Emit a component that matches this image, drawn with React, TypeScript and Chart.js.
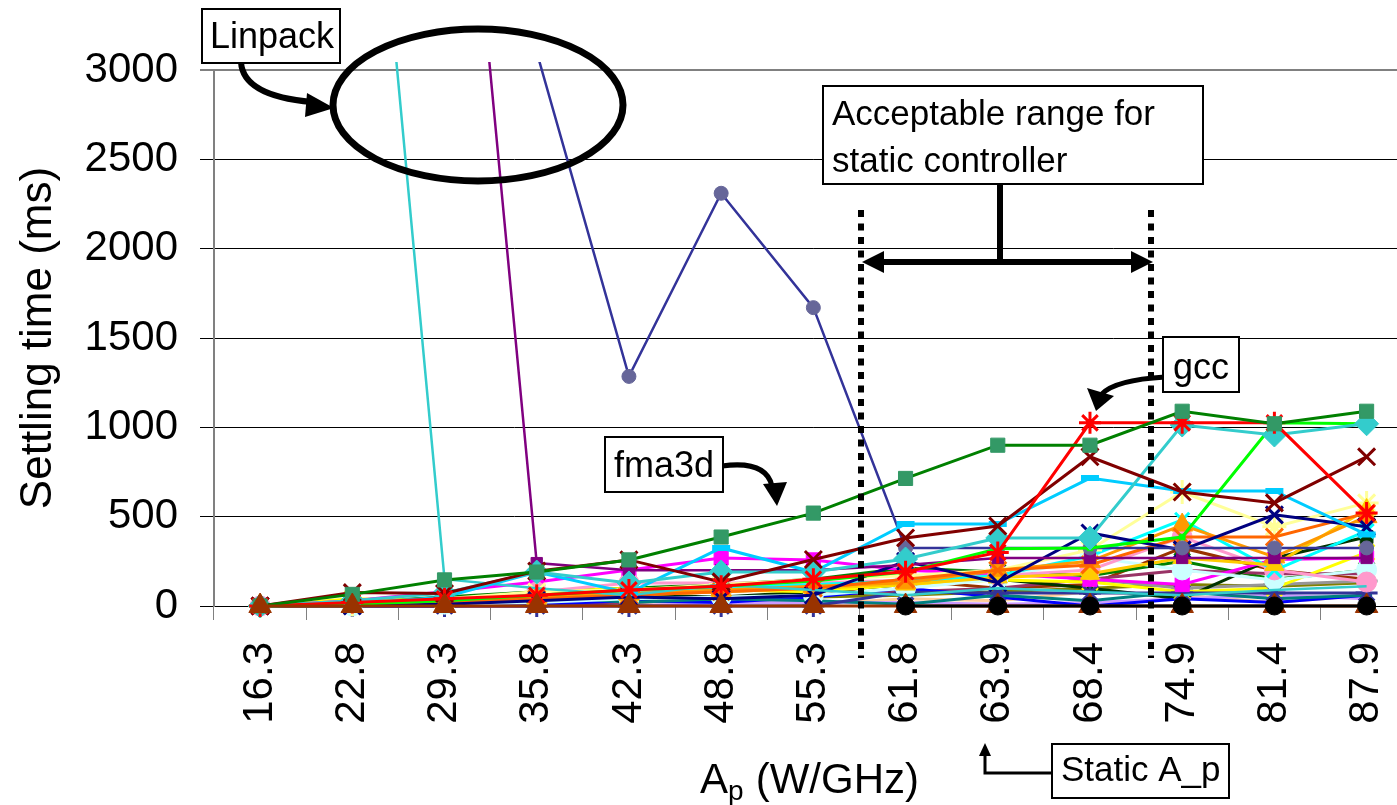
import React, { useEffect, useRef } from 'react';
import { Chart, registerables } from 'chart.js';

Chart.register(...registerables);

const FONT = "'Liberation Sans', Arial, Helvetica, sans-serif";

// Categories (A_p in W/GHz)
const categories = ['16.3', '22.8', '29.3', '35.8', '42.3', '48.8', '55.3', '61.8', '63.9', '68.4', '74.9', '81.4', '87.9'];

// Y axis
const yMin = 0;
const yMax = 3000;
const yStep = 500;

// Series values (ms); values above 3000 run off the top of the plot
const baseBlack = [null, null, null, null, null, null, null, 0, 0, 0, 0, 0, 0];
const baseBrown = [0, 0, 0, 0, 0, 0, 0, 0, 0, 0, 0, 0, 0];
const fma3d = [0, 65, 146, 190, 258, 386, 520, 714, 900, 900, 1090, 1020, 1090];
const gcc = [0, 20, 40, 60, 90, 110, 150, 192, 300, 1025, 1025, 1025, 520];
const darkRedX = [0, 75, 70, 195, 258, 135, 260, 381, 448, 835, 638, 577, 835];
const turquoiseDiamond = [0, 30, 73, 190, 129, 190, 190, 263, 381, 381, 1013, 957, 1020];
const limeSeries = [0, 10, 30, 60, 90, 110, 140, 190, 320, 325, 386, 1025, 1020];
const skyBlueDash = [0, 10, 50, 190, 73, 325, 190, 459, 459, 716, 644, 644, 400];
const linpackIndigo = [6000, 6000, 6000, 3100, 1285, 2310, 1670, 325, 325, 325, 325, 325, 325];
const linpackPurple = [6000, 6000, 5700, 240, 200, 200, 200, 230, 269, 269, 269, 269, 269];
const linpackCyan = [6000, 5700, 150, 100, 60, 120, 90, 60, 100, 80, 60, 90, 110];
const navyX = [0, 0, 10, 30, 50, 40, 60, 250, 130, 409, 314, 510, 443];
const orangeX = [0, 5, 20, 40, 60, 80, 100, 150, 200, 230, 386, 386, 520];
const orangeTri = [0, 0, 30, 50, 70, 90, 110, 130, 200, 250, 453, 275, 500];
const goldTri = [0, 0, 20, 40, 60, 80, 100, 120, 160, 180, 269, 230, 540];
const lightYellowStar = [0, 10, 40, 80, 90, 120, 150, 170, 200, 314, 638, 443, 577];
const cyanSeries = [0, 20, 40, 60, 80, 100, 120, 140, 170, 280, 482, 200, 420];
const pinkCircle = [0, 20, 30, 78, 129, 129, 129, 145, 170, 202, 386, 202, 134];
const lightCyanCircle = [0, 0, 10, 20, 40, 50, 60, 100, 150, 274, 202, 146, 202];
const magentaRect = [0, 30, 80, 134, 202, 269, 258, 200, 180, 150, 120, 260, 269];
const indigoStar = [0, 0, 0, 0, 0, 0, 0, 78, 73, 73, 73, 73, 73];
const yellowX = [0, 40, 30, 80, 100, 90, 80, 120, 146, 134, 80, 100, 300];
const tealSeries = [0, 0, 20, 60, 20, 40, 30, 10, 60, 30, 80, 40, 60];
const blueSeries = [0, 0, 0, 10, 30, 20, 50, 100, 50, 0, 40, 20, 60];
const darkGreenRect = [0, 0, 10, 30, 60, 50, 80, 120, 150, 100, 40, 269, 386];
const grayPlus = [0, 10, 20, 40, 60, 80, 100, 120, 190, 150, 100, 120, 140];
const oliveSeries = [0, 0, 10, 20, 30, 40, 50, 60, 80, 100, 120, 110, 130];
const plumSeries = [0, 0, 0, 0, 20, 40, 60, 80, 100, 150, 200, 180, 180];
const lavenderSeries = [0, 0, 0, 0, 0, 20, 20, 20, 10, 20, 40, 60, 40];
const tanSeries = [0, 0, 0, 10, 20, 30, 10, 40, 30, 80, 60, 20, 60];
const greenX = [0, 20, 50, 80, 100, 120, 150, 213, 190, 170, 250, 150, 200];
const brownRect = [0, 0, 10, 20, 30, 40, 50, 146, 100, 120, 325, 200, 150];

type S = { label: string; data: (number | null)[]; color: string; pc?: string; ps: any; r: number; w?: number };

// first entry is drawn on top
const seriesList: S[] = [
  { label: 'base2', data: baseBlack, color: '#000000', ps: 'circle', r: 9 },
  { label: 'base1', data: baseBrown, color: '#993300', ps: 'triangle', r: 13 },
  { label: 'fma3d', data: fma3d, color: '#008000', pc: '#339966', ps: 'rect', r: 10 },
  { label: 'gcc', data: gcc, color: '#FF0000', ps: 'star', r: 11 },
  { label: 's5', data: darkRedX, color: '#800000', ps: 'crossRot', r: 12 },
  { label: 's6', data: turquoiseDiamond, color: '#33CCCC', ps: 'rectRot', r: 12 },
  { label: 's7', data: limeSeries, color: '#00FF00', ps: 'rect', r: 4 },
  { label: 's8', data: skyBlueDash, color: '#00CCFF', ps: 'line', r: 9 },
  { label: 'Linpack1', data: linpackIndigo, color: '#333399', pc: '#666699', ps: 'circle', r: 7, w: 2.5 },
  { label: 'Linpack2', data: linpackPurple, color: '#800080', ps: 'rect', r: 8, w: 2.5 },
  { label: 'Linpack3', data: linpackCyan, color: '#33CCCC', ps: 'circle', r: 0, w: 2.5 },
  { label: 's12', data: navyX, color: '#000080', ps: 'crossRot', r: 12 },
  { label: 's13', data: orangeX, color: '#FF6600', ps: 'crossRot', r: 12 },
  { label: 's14', data: orangeTri, color: '#FF9900', ps: 'triangle', r: 12 },
  { label: 's15', data: goldTri, color: '#FFCC00', ps: 'triangle', r: 11 },
  { label: 's16', data: lightYellowStar, color: '#FFFF99', ps: 'star', r: 12 },
  { label: 's17', data: cyanSeries, color: '#00FFFF', ps: 'crossRot', r: 10 },
  { label: 's18', data: pinkCircle, color: '#FF99CC', ps: 'circle', r: 10 },
  { label: 's19', data: lightCyanCircle, color: '#CCFFFF', ps: 'circle', r: 10 },
  { label: 's20', data: magentaRect, color: '#FF00FF', ps: 'rect', r: 10 },
  { label: 's21', data: indigoStar, color: '#333399', ps: 'star', r: 11 },
  { label: 's22', data: yellowX, color: '#FFFF00', ps: 'crossRot', r: 11 },
  { label: 's23', data: tealSeries, color: '#008080', ps: 'circle', r: 5 },
  { label: 's24', data: blueSeries, color: '#0000FF', ps: 'circle', r: 5 },
  { label: 's25', data: darkGreenRect, color: '#003300', ps: 'rect', r: 9 },
  { label: 's26', data: grayPlus, color: '#969696', ps: 'cross', r: 11 },
  { label: 's27', data: oliveSeries, color: '#808000', ps: 'circle', r: 4 },
  { label: 's28', data: plumSeries, color: '#993366', ps: 'circle', r: 4 },
  { label: 's29', data: lavenderSeries, color: '#CC99FF', ps: 'circle', r: 4 },
  { label: 's30', data: tanSeries, color: '#FFCC99', ps: 'circle', r: 4 },
  { label: 's31', data: greenX, color: '#008000', ps: 'crossRot', r: 11 },
  { label: 's32', data: brownRect, color: '#993300', ps: 'rect', r: 10 },
];

function arrowHead(ctx: CanvasRenderingContext2D, tip: [number, number], b1: [number, number], b2: [number, number]) {
  ctx.beginPath();
  ctx.moveTo(tip[0], tip[1]);
  ctx.lineTo(b1[0], b1[1]);
  ctx.lineTo(b2[0], b2[1]);
  ctx.closePath();
  ctx.fill();
}

function box(ctx: CanvasRenderingContext2D, x1: number, y1: number, x2: number, y2: number) {
  ctx.fillStyle = '#ffffff';
  ctx.fillRect(x1, y1, x2 - x1, y2 - y1);
  ctx.strokeStyle = '#000000';
  ctx.lineWidth = 2;
  ctx.strokeRect(x1, y1, x2 - x1, y2 - y1);
  ctx.fillStyle = '#000000';
}

const annotations = {
  id: 'annotations',
  afterDraw(chart: any) {
    const ctx: CanvasRenderingContext2D = chart.ctx;
    ctx.save();
    ctx.fillStyle = '#000';
    ctx.strokeStyle = '#000';
    ctx.textBaseline = 'alphabetic';
    ctx.textAlign = 'left';

    // Linpack ellipse
    ctx.lineWidth = 7;
    ctx.beginPath();
    ctx.ellipse(478, 105, 145, 76, 0, 0, Math.PI * 2);
    ctx.stroke();

    // Linpack box + arrow
    ctx.lineWidth = 6;
    ctx.beginPath();
    ctx.moveTo(241, 62);
    ctx.quadraticCurveTo(243, 96, 312, 102);
    ctx.stroke();
    arrowHead(ctx, [334, 108], [307, 93], [305, 117]);
    box(ctx, 202, 9, 340, 63);
    ctx.font = `36px ${FONT}`;
    ctx.fillText('Linpack', 210, 48);

    // Dotted vertical lines
    ctx.lineWidth = 6;
    ctx.setLineDash([7, 6.5]);
    ctx.beginPath();
    ctx.moveTo(861, 210);
    ctx.lineTo(861, 658);
    ctx.moveTo(1151, 210);
    ctx.lineTo(1151, 658);
    ctx.stroke();
    ctx.setLineDash([]);

    // Acceptable range: stem + double arrow
    ctx.lineWidth = 6;
    ctx.beginPath();
    ctx.moveTo(1000, 184);
    ctx.lineTo(1000, 262);
    ctx.moveTo(880, 262);
    ctx.lineTo(1135, 262);
    ctx.stroke();
    arrowHead(ctx, [862, 262], [884, 251], [884, 273]);
    arrowHead(ctx, [1153, 262], [1131, 251], [1131, 273]);
    box(ctx, 823, 86, 1203, 184);
    ctx.font = `35px ${FONT}`;
    ctx.fillText('Acceptable range for', 832, 125);
    ctx.fillText('static controller', 832, 172);

    // gcc
    ctx.lineWidth = 5;
    ctx.beginPath();
    ctx.moveTo(1165, 377);
    ctx.quadraticCurveTo(1115, 380, 1102, 394);
    ctx.stroke();
    arrowHead(ctx, [1096, 411], [1087, 388], [1114, 396]);
    box(ctx, 1163, 337, 1239, 392);
    ctx.font = `36px ${FONT}`;
    ctx.fillText('gcc', 1173, 379);

    // fma3d
    ctx.lineWidth = 5;
    ctx.beginPath();
    ctx.moveTo(722, 466);
    ctx.quadraticCurveTo(766, 460, 772, 486);
    ctx.stroke();
    arrowHead(ctx, [777, 506], [763, 484], [787, 482]);
    box(ctx, 605, 437, 723, 492);
    ctx.font = `36px ${FONT}`;
    ctx.fillText('fma3d', 614, 477);

    // Static A_p
    ctx.lineWidth = 3;
    ctx.beginPath();
    ctx.moveTo(1052, 773);
    ctx.lineTo(985, 773);
    ctx.lineTo(985, 752);
    ctx.stroke();
    arrowHead(ctx, [985, 743], [979, 756], [991, 756]);
    box(ctx, 1052, 744, 1229, 798);
    ctx.font = `35px ${FONT}`;
    ctx.fillText('Static A_p', 1061, 781);

    // X axis title with subscript
    ctx.fillStyle = '#000';
    ctx.font = `42px ${FONT}`;
    ctx.fillText('A', 700, 793);
    ctx.font = `28px ${FONT}`;
    ctx.fillText('p', 728, 800);
    ctx.font = `42px ${FONT}`;
    ctx.fillText(' (W/GHz)', 744, 793);

    ctx.restore();
  },
};

export default function App() {
  const ref = useRef<HTMLCanvasElement | null>(null);

  useEffect(() => {
    if (!ref.current) return;
    const datasets = seriesList.map((s) => ({
      label: s.label,
      data: s.data,
      borderColor: s.color,
      backgroundColor: s.pc || s.color,
      pointBackgroundColor: s.pc || s.color,
      pointBorderColor: s.pc || s.color,
      pointStyle: s.ps,
      pointRadius: s.r,
      pointBorderWidth: s.ps === 'line' ? 6 : s.ps === 'crossRot' || s.ps === 'star' || s.ps === 'cross' ? 3 : 1,
      borderWidth: s.w || 3,
      fill: false,
      tension: 0,
      spanGaps: false,
      clip: { left: 10, top: 8, right: 10, bottom: 20 },
    }));

    const chart = new Chart(ref.current, {
      type: 'line',
      data: { labels: categories, datasets },
      options: {
        responsive: false,
        animation: false,
        devicePixelRatio: 1,
        layout: { padding: { top: 70, right: 26, left: 0, bottom: 0 } },
        plugins: { legend: { display: false }, tooltip: { enabled: false }, title: { display: false } },
        scales: {
          x: {
            type: 'category',
            offset: true,
            grid: { display: true, drawOnChartArea: false, drawTicks: true, tickLength: 14, color: '#808080', offset: true },
            border: { display: true, color: '#000000', width: 1 },
            ticks: { autoSkip: false, minRotation: 90, maxRotation: 90, padding: 22, color: '#000', font: { size: 42, family: FONT } },
            afterFit: (s: any) => { s.height = 199; },
          },
          y: {
            min: yMin,
            max: yMax,
            ticks: {
              stepSize: yStep,
              padding: 22,
              color: '#000',
              font: { size: 42, family: FONT },
              callback: (v: any) => String(v),
            },
            grid: {
              color: (c: any) => (c.tick && c.tick.value === yMax ? '#808080' : '#000000'),
              lineWidth: (c: any) => (c.tick && c.tick.value === yMax ? 2 : 1),
              tickLength: 14,
              drawTicks: true,
            },
            border: { display: true, color: '#808080', width: 2 },
            title: { display: true, text: 'Settling time (ms)', color: '#000', font: { size: 44, family: FONT }, padding: { top: 12, bottom: 0 } },
            afterFit: (s: any) => { s.width = 214; },
          },
        },
      },
      plugins: [annotations],
    } as any);
    return () => chart.destroy();
  }, []);

  return (
    <div style={{ position: 'fixed', left: 0, top: 0, width: 1397, height: 805, overflow: 'hidden', background: '#ffffff' }}>
      <canvas ref={ref} width={1440} height={805} style={{ display: 'block', width: 1440, height: 805 }} />
    </div>
  );
}
